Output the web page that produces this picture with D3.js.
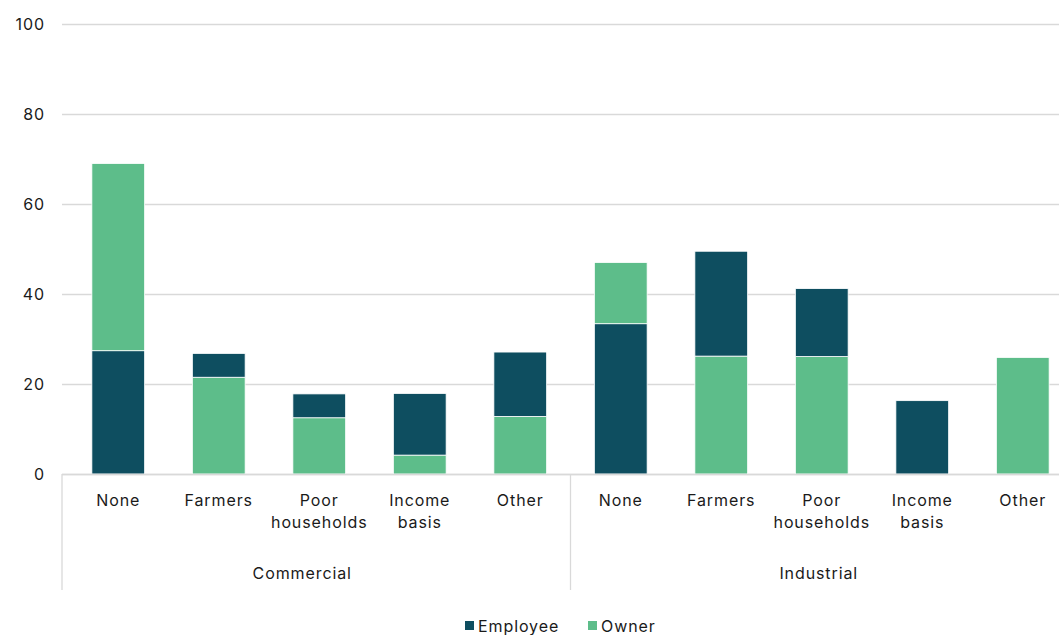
<!DOCTYPE html>
<html>
<head>
<meta charset="utf-8">
<script src="https://cdn.jsdelivr.net/npm/d3@7"></script>
<style>
  html, body { margin: 0; padding: 0; background: #fff; }
  svg { display: block; font-family: "Inter", "Lato", sans-serif; }
  svg text { letter-spacing: 0.9px; }
</style>
</head>
<body>
<svg id="chart" width="1059" height="635"></svg>
<script>
// Sector groups and the categories within each group
const groups = ["Commercial", "Industrial"];
const categories = ["None", "Farmers", "Poor households", "Income basis", "Other"];
const series = ["Employee", "Owner"];

// Shares per category, one array per group and series
const commercialEmployee = [27.4, 5.3, 5.3, 13.7, 14.3];
const commercialOwner    = [41.6, 21.5, 12.5, 4.2, 12.8];
const industrialEmployee = [33.4, 23.3, 15.1, 16.3, 0];
const industrialOwner    = [13.6, 26.2, 26.1, 0, 25.9];

// Which series sits at the bottom of each stack
const bottomSeries = ["Employee", "Owner", "Owner", "Owner", "Owner"];

const yTicks = [0, 20, 40, 60, 80, 100];

const colors = { Employee: "#0e4e60", Owner: "#5dbd8a" };

const svg = d3.select("#chart");
const W = 1059, H = 635;
const plotLeft = 62, plotTop = 24, plotBottom = 474;

const rows = [];
groups.forEach((g, gi) => {
  const emp = gi === 0 ? commercialEmployee : industrialEmployee;
  const own = gi === 0 ? commercialOwner : industrialOwner;
  categories.forEach((c, ci) => {
    rows.push({ key: g + "|" + c, group: g, cat: c, Employee: emp[ci], Owner: own[ci], bottom: bottomSeries[ci] });
  });
});

const x = d3.scaleBand()
  .domain(rows.map(r => r.key))
  .range([68, 1073])
  .paddingInner(0.475)
  .paddingOuter(0.2375);

const y = d3.scaleLinear().domain([0, 100]).range([plotBottom, plotTop]);

// Gridlines and y tick labels
const yAxis = d3.axisLeft(y).tickValues(yTicks).tickSize(-(W - plotLeft)).tickPadding(17);
const ya = svg.append("g").attr("transform", `translate(${plotLeft},0)`).call(yAxis);
ya.select(".domain").remove();
ya.selectAll(".tick line").attr("stroke", "#d9d9d9").attr("stroke-width", 1.3);
ya.selectAll(".tick text").attr("fill", "#1a1a1a").style("font-size", "16px").style("font-family", "Inter, sans-serif");

// Stacked bars
const barG = svg.append("g");
rows.forEach(r => {
  const order = r.bottom === "Employee" ? ["Employee", "Owner"] : ["Owner", "Employee"];
  let base = 0;
  order.forEach(s => {
    const v = r[s];
    if (v > 0) {
      barG.append("rect")
        .attr("x", x(r.key))
        .attr("width", x.bandwidth())
        .attr("y", y(base + v))
        .attr("height", y(base) - y(base + v))
        .attr("fill", colors[s])
        .attr("stroke", "#ffffff")
        .attr("stroke-width", 0.8);
    }
    base += v;
  });
});

// Category axis line and group separators
svg.append("line").attr("x1", plotLeft).attr("x2", W).attr("y1", plotBottom + 0.5).attr("y2", plotBottom + 0.5)
  .attr("stroke", "#d9d9d9").attr("stroke-width", 1.3);
const sepX = [plotLeft, (x(rows[4].key) + x.bandwidth() + x(rows[5].key)) / 2];
sepX.forEach(sx => {
  svg.append("line").attr("x1", sx).attr("x2", sx).attr("y1", plotBottom).attr("y2", 590)
    .attr("stroke", "#d9d9d9").attr("stroke-width", 1.3);
});

// Category labels (wrapped to two lines where needed)
const labelG = svg.append("g").style("font-size", "16px").attr("fill", "#1a1a1a").attr("text-anchor", "middle");
rows.forEach(r => {
  const cx = x(r.key) + x.bandwidth() / 2;
  const words = r.cat.split(" ");
  const t = labelG.append("text").attr("x", cx).attr("y", 506);
  words.forEach((w, i) => {
    t.append("tspan").attr("x", cx).attr("dy", i === 0 ? 0 : 21.5).text(w);
  });
});

// Group labels, centred a little left of each group's midpoint
groups.forEach((g, gi) => {
  const first = x(rows[gi * 5].key);
  const last = x(rows[gi * 5 + 4].key) + x.bandwidth();
  const shift = gi === 0 ? -17 : -3;
  svg.append("text").attr("x", (first + last) / 2 + shift).attr("y", 579)
    .attr("text-anchor", "middle").style("font-size", "16px").attr("fill", "#1a1a1a").text(g);
});

// Legend
const legendItems = [{ s: "Employee", x: 465 }, { s: "Owner", x: 588 }];
legendItems.forEach(d => {
  svg.append("rect").attr("x", d.x).attr("y", 621).attr("width", 9).attr("height", 9).attr("fill", colors[d.s]);
  svg.append("text").attr("x", d.x + 13).attr("y", 632).style("font-size", "16px").attr("fill", "#1a1a1a").text(d.s);
});
</script>
</body>
</html>
